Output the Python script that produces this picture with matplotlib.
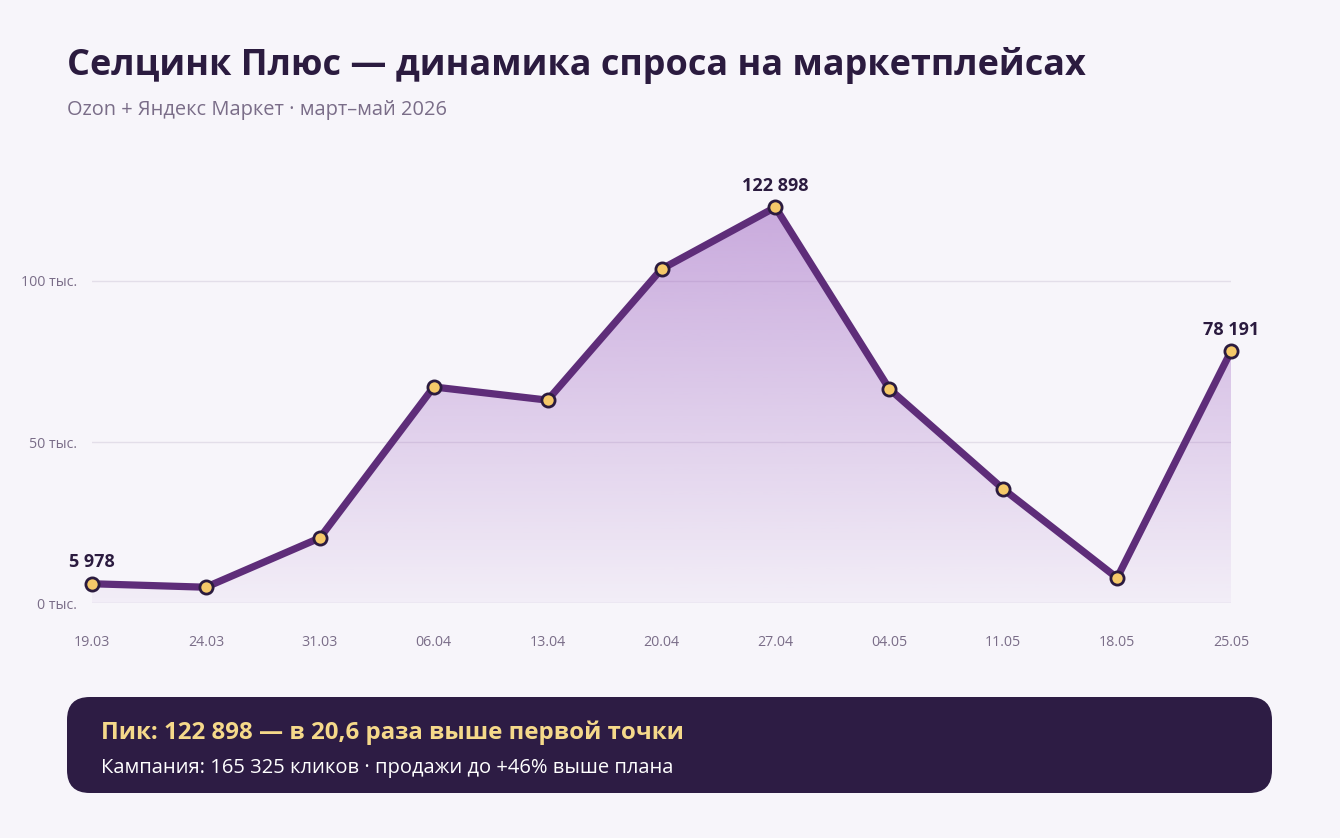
import numpy as np
import matplotlib.pyplot as plt
from matplotlib.patches import FancyBboxPatch, Polygon

plt.rcParams['font.family'] = ['Open Sans', 'DejaVu Sans']

dates = ['19.03', '24.03', '31.03', '06.04', '13.04', '20.04', '27.04',
         '04.05', '11.05', '18.05', '25.05']
demand = [5978, 4900, 20200, 67100, 63000, 103700, 122898,
          66500, 35400, 7800, 78191]
labeled = {0: '5 978', 6: '122 898', 10: '78 191'}
yticks = [0, 50000, 100000]
ytick_labels = ['0 тыс.', '50 тыс.', '100 тыс.']

bg = '#f7f5fa'
dark = '#2b1b3f'
line_c = '#5e2d79'

fig = plt.figure(figsize=(13.4, 8.38), dpi=100, facecolor=bg)
ax = fig.add_axes([92 / 1340, (838 - 603) / 838, (1231 - 92) / 1340, 130 * 3.22 / 838])
ax.set_facecolor(bg)

x = np.arange(len(dates))
ax.set_xlim(0, len(dates) - 1)
ax.set_ylim(0, 130000)

# gradient fill under the line
grad = np.linspace(0.05, 0.5, 256).reshape(-1, 1)
cmap_rgba = np.zeros((256, 1, 4))
cmap_rgba[..., 0] = 0x9b / 255
cmap_rgba[..., 1] = 0x5f / 255
cmap_rgba[..., 2] = 0xc0 / 255
cmap_rgba[..., 3] = grad
img = ax.imshow(cmap_rgba, extent=[0, len(dates) - 1, 0, max(demand)],
                origin='lower', aspect='auto', zorder=1)
poly = Polygon(list(zip(x, demand)) + [(x[-1], 0), (0, 0)], closed=True,
               facecolor='none', edgecolor='none')
ax.add_patch(poly)
img.set_clip_path(poly)

for t in yticks:
    ax.axhline(t, color='#e3dee9' if t else '#ddd6e4', lw=1, zorder=0)

ax.plot(x, demand, color=line_c, lw=5.2, zorder=3, solid_joinstyle='miter',
        solid_capstyle='butt', clip_on=False)
ax.scatter(x, demand, s=90, color='#f5c969', edgecolor=dark, linewidth=2,
           zorder=4, clip_on=False)

for i, txt in labeled.items():
    ax.annotate(txt, (x[i], demand[i]), xytext=(0, 9), textcoords='offset points',
                ha='center', va='bottom', fontsize=13, fontweight='bold', color=dark)

ax.set_xticks(x)
ax.set_xticklabels(dates)
ax.set_yticks(yticks)
ax.set_yticklabels(ytick_labels)
ax.tick_params(length=0, labelsize=10.3, colors='#7a6d88')
ax.tick_params(axis='x', pad=23)
ax.tick_params(axis='y', pad=11)
for s in ax.spines.values():
    s.set_visible(False)

fig.text(67 / 1340, 1 - 66 / 838, 'Селцинк Плюс — динамика спроса на маркетплейсах',
         fontsize=25.9, fontweight='bold', color=dark, va='center')
fig.text(67 / 1340, 1 - 110 / 838, 'Ozon + Яндекс Маркет · март–май 2026',
         fontsize=14.4, color='#7a6d88', va='center')

box = FancyBboxPatch((67 / 1340, 1 - 793 / 838), (1272 - 67) / 1340, 96 / 838,
                     boxstyle='round,pad=0,rounding_size=0.017', transform=fig.transFigure,
                     facecolor='#2d1c44', edgecolor='none', mutation_aspect=1340 / 838)
fig.patches.append(box)
fig.text(101 / 1340, 1 - 733 / 838, 'Пик: 122 898 — в 20,6 раза выше первой точки',
         fontsize=17.3, fontweight='bold', color='#f5d98a', va='center')
fig.text(101 / 1340, 1 - 768 / 838, 'Кампания: 165 325 кликов · продажи до +46% выше плана',
         fontsize=14.5, color='white', va='center')

fig.savefig('out.png', dpi=100, facecolor=bg)
